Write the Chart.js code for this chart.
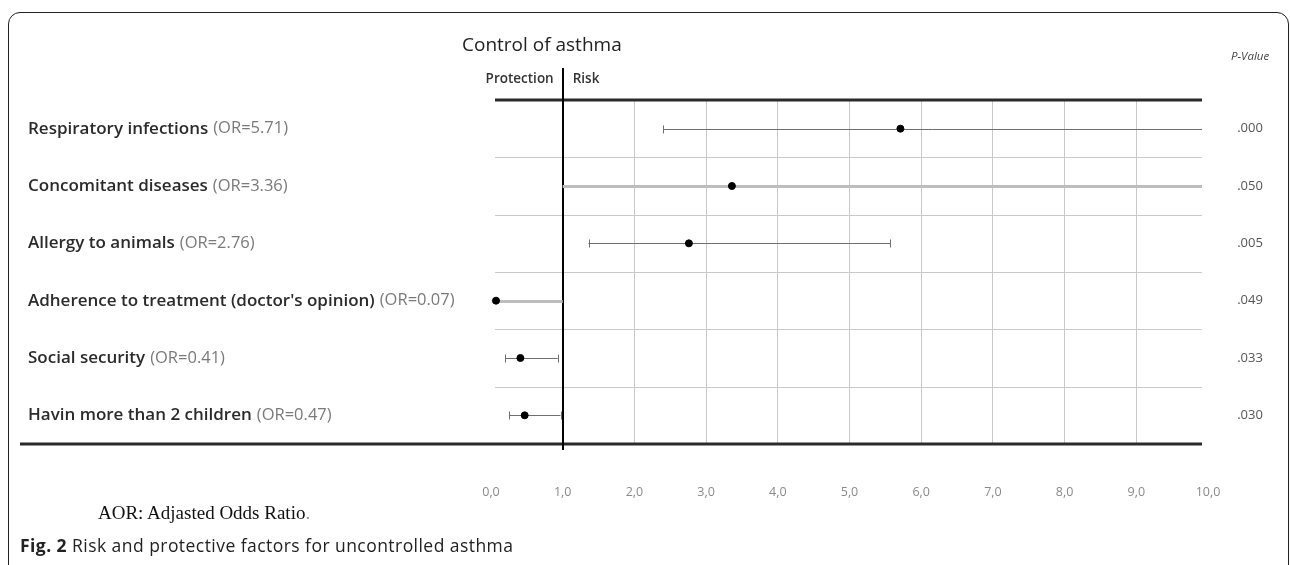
<!DOCTYPE html>
<html>
<head>
<meta charset="utf-8">
<script src="https://cdn.jsdelivr.net/npm/chart.js@4.4.1/dist/chart.umd.min.js"></script>
<style>
  html, body { margin: 0; padding: 0; background: #fff; }
  body { width: 1290px; height: 565px; position: relative; overflow: hidden; }
  #frame { position: absolute; left: 8px; top: 12px; width: 1281px; height: 600px;
           border: 1.5px solid #222; border-radius: 12px 12px 0 0; box-sizing: border-box; }
  #wrap { position: absolute; left: 0; top: 0; width: 1290px; height: 565px; }
  #note { position: absolute; left: 98px; top: 502px; font-family: "Liberation Serif", serif;
          font-size: 19px; color: #111; }
  #note span { color: #999; }
  #cap { position: absolute; left: 20px; top: 533px; font-family: "Open Sans", sans-serif;
         font-size: 17.5px; color: #222; letter-spacing: 0.45px; }
  #cap b { font-weight: 700; }
</style>
</head>
<body>
<div id="frame"></div>
<div id="wrap"><canvas id="c" width="1290" height="565"></canvas></div>
<div id="note">AOR: Adjasted Odds Ratio<span>.</span></div>
<div id="cap"><b>Fig. 2</b> Risk and protective factors for uncontrolled asthma</div>
<script>
// ---- data ----
const factors = ['Respiratory infections', 'Concomitant diseases', 'Allergy to animals',
  "Adherence to treatment (doctor's opinion)", 'Social security', 'Havin more than 2 children'];
const oddsRatios = [5.71, 3.36, 2.76, 0.07, 0.41, 0.47];
const ciLower = [2.40, 1.00, 1.36, 0.01, 0.20, 0.25];
const ciUpper = [13.6, 11.3, 5.57, 1.00, 0.93, 0.97];
const pValues = ['.000', '.050', '.005', '.049', '.033', '.030'];
const xTicks = [0, 1, 2, 3, 4, 5, 6, 7, 8, 9, 10];

const wideRows = [1, 3]; // rows drawn with a light, wide CI band

const forestPlugin = {
  id: 'forest',
  beforeDatasetsDraw(chart) {
    const { ctx, chartArea: ca, scales: { x, y } } = chart;
    const x0 = x.getPixelForValue(0) + 4;
    const xEnd = x.getPixelForValue(10) - 6;
    ctx.save();
    // row separators
    ctx.strokeStyle = '#c9c9c9';
    ctx.lineWidth = 1;
    for (let i = 1; i < factors.length; i++) {
      const yy = Math.round(y.getPixelForValue(i + 0.5)) + 0.5;
      ctx.beginPath(); ctx.moveTo(x0, yy); ctx.lineTo(xEnd, yy); ctx.stroke();
    }
    // thick top and bottom rules
    ctx.strokeStyle = '#2a2a2a';
    ctx.lineWidth = 3;
    ctx.beginPath(); ctx.moveTo(x0, ca.top); ctx.lineTo(xEnd, ca.top); ctx.stroke();
    ctx.beginPath(); ctx.moveTo(20, ca.bottom); ctx.lineTo(xEnd, ca.bottom); ctx.stroke();
    // reference line at OR = 1
    const x1 = Math.round(x.getPixelForValue(1));
    ctx.strokeStyle = '#000';
    ctx.lineWidth = 2;
    ctx.beginPath(); ctx.moveTo(x1, ca.top - 32); ctx.lineTo(x1, ca.bottom + 6); ctx.stroke();

    // confidence intervals
    const xmin = x.getPixelForValue(0), xmax = x.getPixelForValue(10) - 6;
    factors.forEach((f, i) => {
      const yy = Math.round(y.getPixelForValue(i + 1)) + 0.5;
      let a = x.getPixelForValue(ciLower[i]);
      let b = x.getPixelForValue(ciUpper[i]);
      const aClip = a < xmin, bClip = b > xmax;
      a = Math.max(a, xmin); b = Math.min(b, xmax);
      const wide = wideRows.includes(i);
      ctx.strokeStyle = wide ? '#bdbdbd' : '#6f6f6f';
      ctx.lineWidth = wide ? 3 : 1;
      ctx.beginPath(); ctx.moveTo(a, yy); ctx.lineTo(b, yy); ctx.stroke();
      if (!wide) {
        ctx.lineWidth = 1;
        if (!aClip) { const xa = Math.round(a) + 0.5; ctx.beginPath(); ctx.moveTo(xa, yy - 4); ctx.lineTo(xa, yy + 4); ctx.stroke(); }
        if (!bClip) { const xb = Math.round(b) + 0.5; ctx.beginPath(); ctx.moveTo(xb, yy - 4); ctx.lineTo(xb, yy + 4); ctx.stroke(); }
      }
    });
    ctx.restore();
  },
  afterDraw(chart) {
    const { ctx, chartArea: ca, scales: { x, y } } = chart;
    const x1 = x.getPixelForValue(1);
    ctx.save();
    ctx.textBaseline = 'middle';
    // row labels
    factors.forEach((f, i) => {
      const yy = y.getPixelForValue(i + 1);
      ctx.textAlign = 'left';
      ctx.font = '600 17px "Open Sans"';
      ctx.fillStyle = '#2b2b2b';
      ctx.fillText(f, 28, yy);
      const w = ctx.measureText(f).width + 5;
      ctx.font = '16.5px "Open Sans"';
      ctx.fillStyle = '#7a7a7a';
      ctx.fillText('(OR=' + oddsRatios[i].toFixed(2) + ')', 28 + w, yy);
      // p-values
      ctx.textAlign = 'center';
      ctx.font = '13px "Open Sans"';
      ctx.fillStyle = '#555';
      ctx.fillText(pValues[i], 1250, yy);
    });
    // headings
    ctx.textAlign = 'left';
    ctx.font = '500 19px "Open Sans"';
    ctx.fillStyle = '#222';
    ctx.fillText('Control of asthma', 462, 46);
    ctx.font = '600 13.5px "Open Sans"';
    ctx.fillStyle = '#333';
    ctx.textAlign = 'right';
    ctx.fillText('Protection', x1 - 9, ca.top - 21);
    ctx.textAlign = 'left';
    ctx.fillText('Risk', x1 + 10, ca.top - 21);
    ctx.font = 'italic 11.5px "Open Sans"';
    ctx.fillStyle = '#444';
    ctx.fillText('P-Value', 1231, 57);
    ctx.restore();
  }
};

new Chart(document.getElementById('c'), {
  type: 'scatter',
  data: {
    datasets: [{
      data: oddsRatios.map((v, i) => ({ x: v, y: i + 1 })),
      backgroundColor: '#000',
      borderColor: '#000',
      pointRadius: 3.5,
      pointHoverRadius: 3.5
    }]
  },
  options: {
    responsive: false,
    animation: false,
    events: [],
    layout: { padding: { left: 491, right: 82, top: 100, bottom: 24 } },
    plugins: { legend: { display: false }, tooltip: { enabled: false }, title: { display: false } },
    scales: {
      x: {
        type: 'linear', min: 0, max: 10,
        afterBuildTicks(s) { s.ticks = xTicks.map(v => ({ value: v })); },
        border: { display: false },
        grid: {
          drawTicks: false,
          color: c => (c.tick && (c.tick.value === 0 || c.tick.value === 1 || c.tick.value === 10)) ? 'rgba(0,0,0,0)' : '#c9c9c9',
          lineWidth: 1
        },
        ticks: {
          padding: 41,
          color: '#8a8a8a',
          font: { family: 'Open Sans', size: 12.5 },
          callback: v => v.toFixed(1).replace('.', ',')
        }
      },
      y: {
        type: 'linear', min: 0.5, max: 6.5, reverse: true, display: false
      }
    }
  },
  plugins: [forestPlugin]
});
</script>
</body>
</html>
